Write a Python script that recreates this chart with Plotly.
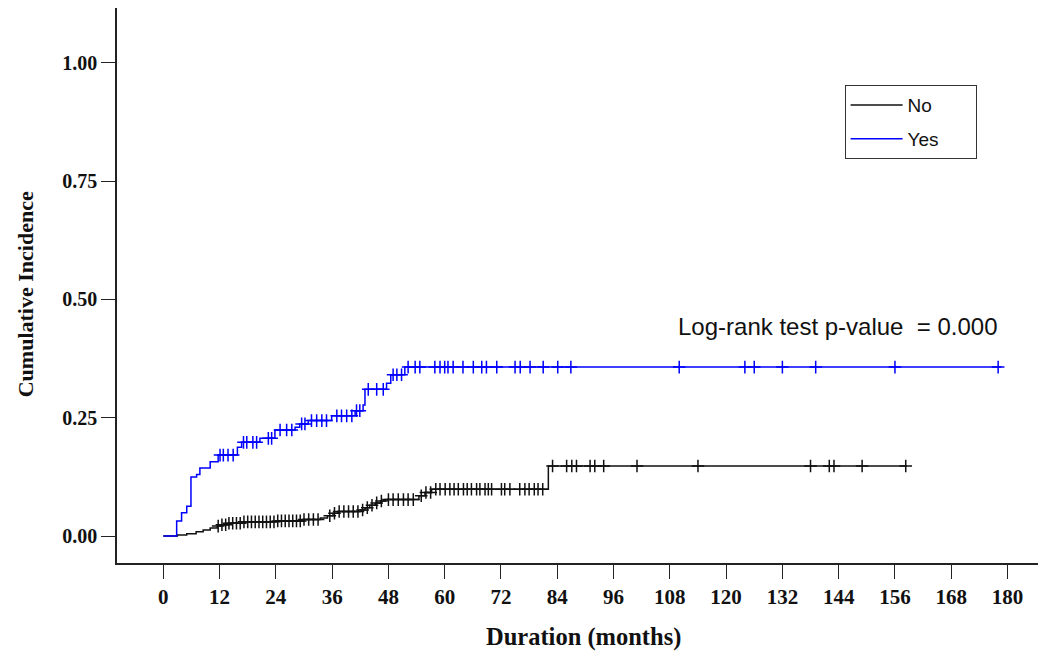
import numpy as np
import plotly.graph_objects as go

# ---- Data ----
# "No" group: event times (months) and cumulative incidence after each step
no_times = [0, 3.0, 5.0, 7.0, 8.5, 10.0, 11.5, 12.5, 14.0, 17.0, 24.0, 30.0, 33.5, 35.0,
            36.2, 37.2, 42.0, 43.0, 44.0, 45.2, 46.3, 47.3, 54.5, 55.8, 57.2, 82.1]
no_values = [0, 0.002, 0.005, 0.009, 0.013, 0.017, 0.021, 0.024, 0.027, 0.030, 0.032, 0.035,
             0.038, 0.043, 0.048, 0.052, 0.055, 0.060, 0.065, 0.070, 0.074, 0.077, 0.085,
             0.092, 0.099, 0.148]
no_end = 158.5
no_censor = [11.7, 12.5, 13.3, 14.0, 14.8, 15.6, 16.4, 17.2, 18.0, 18.8, 19.6, 20.4, 21.2,
             22.0, 22.8, 23.6, 24.4, 25.2, 26.0, 26.8, 27.6, 28.4, 29.2, 30.0, 31.0, 32.0,
             33.0, 35.5, 36.5, 37.5, 38.5, 39.5, 40.5, 41.5, 42.5, 43.5, 44.5, 45.5, 46.5,
             48.0, 49.0, 50.1, 51.2, 52.2, 53.3, 55.0, 56.0, 57.0, 58.1, 59.0, 60.1, 61.1,
             62.0, 62.9, 64.0, 64.8, 65.7, 66.8, 67.5, 68.6, 69.3, 70.0, 72.1, 72.8, 73.9,
             76.0, 77.1, 78.0, 79.1, 79.9, 80.9, 83.0, 86.0, 87.1, 88.1, 91.0, 92.0, 93.9,
             101.0, 114.0, 138.0, 142.0, 143.0, 149.0, 158.3]

# "Yes" group
yes_times = [0, 2.85, 3.9, 5.0, 5.9, 7.1, 7.8, 10.0, 11.7, 15.8, 16.7, 20.6, 23.8, 28.1,
             29.1, 30.9, 35.9, 40.9, 42.6, 43.0, 47.6, 48.5, 51.5]
yes_values = [0, 0.032, 0.049, 0.063, 0.125, 0.130, 0.144, 0.157, 0.171, 0.1875, 0.198,
              0.2065, 0.224, 0.230, 0.237, 0.244, 0.254, 0.265, 0.277, 0.310, 0.323,
              0.341, 0.357]
yes_end = 178.7
yes_censor = [12.1, 12.8, 13.8, 14.9, 17.1, 17.8, 19.1, 19.9, 22.4, 23.1, 24.9, 26.3, 27.4,
              29.5, 30.2, 31.6, 32.7, 33.8, 34.8, 37.0, 38.0, 39.1, 40.2, 41.2, 41.9, 43.7,
              45.5, 46.9, 49.0, 49.8, 50.8, 52.2, 53.7, 54.7, 57.9, 59.0, 60.0, 60.7, 61.8,
              63.9, 66.1, 67.9, 68.9, 71.1, 75.0, 76.1, 78.2, 81.0, 84.1, 86.9, 110.0, 124.0,
              126.0, 132.0, 139.1, 156.0, 178.0]

x_ticks = list(range(0, 181, 12))
y_ticks = [0.0, 0.25, 0.5, 0.75, 1.0]
annotation_text = "Log-rank test p-value  = 0.000"


def step_at(times, values, pts):
    t = np.asarray(times)
    v = np.asarray(values)
    idx = np.searchsorted(t, np.asarray(pts), side="right") - 1
    return v[idx]


fig = go.Figure()

pad = "\u00a0" * 6
for name, times, values, end, cens, color in [
    ("No", no_times, no_values, no_end, no_censor, "#111111"),
    ("Yes", yes_times, yes_values, yes_end, yes_censor, "#0000ff"),
]:
    xs = list(times) + [end]
    ys = list(values) + [values[-1]]
    fig.add_trace(go.Scatter(x=xs, y=ys, mode="lines", name=name + pad, legendgroup=name,
                             line=dict(color=color, width=1.5, shape="hv")))
    fig.add_trace(go.Scatter(x=cens, y=step_at(times, values, cens), mode="markers",
                             showlegend=False, hoverinfo="skip", legendgroup=name,
                             marker=dict(symbol="cross-thin", size=9,
                                         line=dict(color=color, width=1.5))))

serif = "Liberation Serif, Times New Roman, serif"
sans = "Liberation Sans, Arial, sans-serif"

fig.update_layout(
    width=1038, height=656,
    margin=dict(l=117, r=0, t=8, b=93),
    plot_bgcolor="white", paper_bgcolor="white",
    showlegend=True,
    legend=dict(x=0.79, y=0.861, xanchor="left", yanchor="top",
                bordercolor="#333333", borderwidth=1, bgcolor="white",
                font=dict(family=sans, size=19, color="#111111"),
                itemwidth=52, tracegroupgap=6),
    xaxis=dict(range=[-9.87, 186.5], tickvals=x_ticks, showgrid=False, zeroline=False,
               showline=True, linecolor="#222222", linewidth=1.5,
               ticks="outside", ticklen=14, tickwidth=1.2, tickcolor="#222222",
               ticklabelstandoff=0,
               tickfont=dict(family=serif, size=21, color="#111111", weight="bold")),
    yaxis=dict(range=[-0.057, 1.116], tickvals=y_ticks, tickformat=".2f",
               showgrid=False, zeroline=False,
               showline=True, linecolor="#222222", linewidth=1.5,
               ticks="outside", ticklen=14, tickwidth=1.2, tickcolor="#222222",
               ticklabelstandoff=0,
               tickfont=dict(family=serif, size=20, color="#111111", weight="bold")),
    annotations=[
        dict(text=annotation_text, xref="x", yref="y", x=178.3, y=0.442,
             xanchor="right", yanchor="middle", showarrow=False,
             font=dict(family=sans, size=24, color="#111111")),
        dict(text="Duration (months)", xref="paper", yref="paper", x=0.507, y=-0.133,
             xanchor="center", yanchor="middle", showarrow=False,
             font=dict(family=serif, size=24.5, color="#111111", weight="bold")),
        dict(text="Cumulative Incidence", xref="paper", yref="paper", x=-0.1, y=0.484,
             xanchor="center", yanchor="middle", showarrow=False, textangle=-90,
             font=dict(family=serif, size=22, color="#111111", weight="bold")),
    ],
)

fig.write_html("out.html")
